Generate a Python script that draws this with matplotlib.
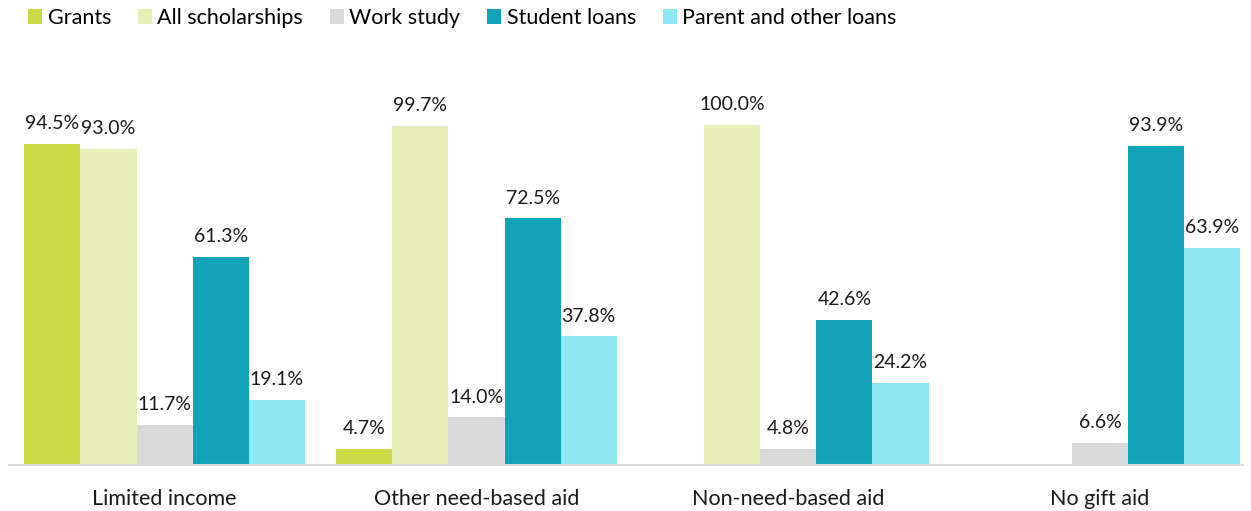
import numpy as np
import matplotlib.pyplot as plt

plt.rcParams['font.family'] = ['Lato', 'DejaVu Sans']

groups = ["Limited income", "Other need-based aid", "Non-need-based aid", "No gift aid"]
series = ["Grants", "All scholarships", "Work study", "Student loans", "Parent and other loans"]
grants = [94.5, 4.7, np.nan, np.nan]
scholarships = [93.0, 99.7, 100.0, np.nan]
work_study = [11.7, 14.0, 4.8, 6.6]
student_loans = [61.3, 72.5, 42.6, 93.9]
parent_loans = [19.1, 37.8, 24.2, 63.9]
colors = ["#c9d845", "#e8efb8", "#d9d9d9", "#12a3b8", "#8ee8f3"]

values = [grants, scholarships, work_study, student_loans, parent_loans]

fig = plt.figure(figsize=(12.51, 5.11), dpi=100)
ax = fig.add_axes([0.007, 0.09, 0.987, 0.6654])

x = np.arange(len(groups))
width = 0.18
for i, (name, vals, col) in enumerate(zip(series, values, colors)):
    pos = x + (i - 2) * width
    v = np.array(vals, dtype=float)
    ax.bar(pos, np.nan_to_num(v), width, color=col, label=name)
    for xp, val in zip(pos, v):
        if not np.isnan(val):
            ax.text(xp, val + 3.5, f"{val:.1f}%", ha="center", va="bottom",
                    fontsize=14, color="#1a1a1a", clip_on=False)

ax.set_xlim(-0.5, 3.46)
ax.set_ylim(0, 100)
ax.set_xticks(x)
ax.set_xticklabels(groups, fontsize=15.5, color="#1a1a1a")
ax.tick_params(axis="x", length=0, pad=17)
ax.set_yticks([])
for side in ["top", "right", "left"]:
    ax.spines[side].set_visible(False)
ax.spines["bottom"].set_color("#d9d9d9")
ax.spines["bottom"].set_linewidth(1.5)

fig.legend(loc="upper left", bbox_to_anchor=(0.007, 1.022), ncol=5, frameon=False,
           fontsize=15.5, handlelength=0.65, handleheight=0.65, handletextpad=0.25,
           columnspacing=1.25)

fig.savefig("out.png", dpi=100)
